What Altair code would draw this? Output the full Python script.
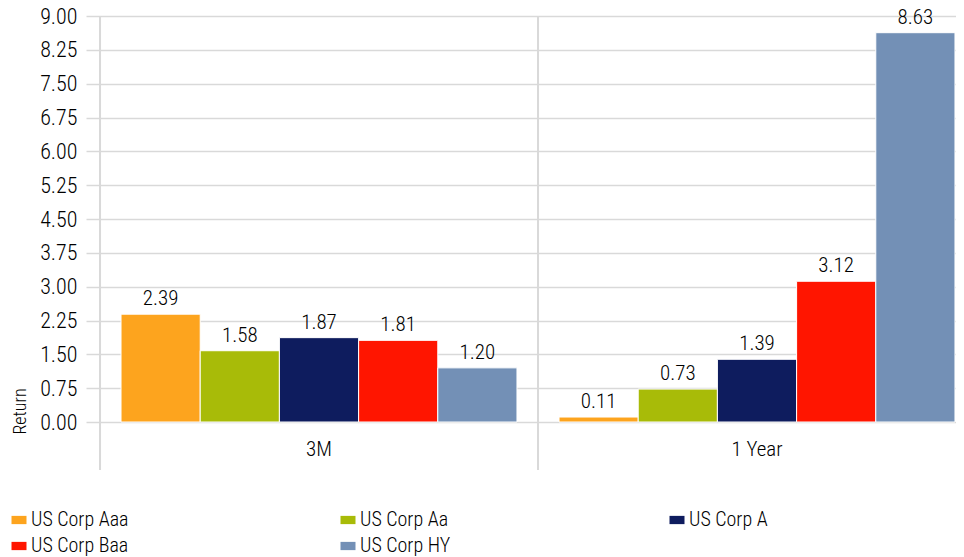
import altair as alt
import pandas as pd

categories = ["3M", "1 Year"]
series = ["US Corp Aaa", "US Corp Aa", "US Corp A", "US Corp Baa", "US Corp HY"]
values_3m = [2.39, 1.58, 1.87, 1.81, 1.20]
values_1y = [0.11, 0.73, 1.39, 3.12, 8.63]
colors = ["#FDA41E", "#A8BB08", "#0E1C5E", "#FF1500", "#7390B6"]
y_ticks = [0, 0.75, 1.5, 2.25, 3.0, 3.75, 4.5, 5.25, 6.0, 6.75, 7.5, 8.25, 9.0]

rows = []
for s, v in zip(series, values_3m):
    rows.append({"Period": "3M", "Series": s, "Return": v})
for s, v in zip(series, values_1y):
    rows.append({"Period": "1 Year", "Series": s, "Return": v})
df = pd.DataFrame(rows)
sep_df = pd.DataFrame({"Period": categories})

FONT = "Roboto Condensed, Liberation Sans Narrow, Arial Narrow, DejaVu Sans Condensed, sans-serif"
FW = 300
GRID = "#d9d9d9"
H = 406
W = 856
STEP_RANGE = [0, 876]

xscale = alt.Scale(domain=categories, range=STEP_RANGE, paddingInner=0.096, paddingOuter=0.048)
yscale = alt.Scale(domain=[0, 9], nice=False, zero=True)

x_axis = alt.Axis(
    title=None,
    labelAngle=0,
    domain=False,
    ticks=False,
    grid=False,
    labelFont=FONT,
    labelFontWeight=FW,
    labelFontSize=21,
    labelColor="#000000",
    labelPadding=16,
)

y_axis = alt.Axis(
    title="Return",
    values=y_ticks,
    format=".2f",
    labelOverlap=False,
    domain=False,
    ticks=True,
    tickSize=14,
    tickColor=GRID,
    tickWidth=1.5,
    grid=True,
    gridColor=GRID,
    gridWidth=1.5,
    labelFont=FONT,
    labelFontWeight=FW,
    labelFontSize=22,
    labelColor="#000000",
    labelPadding=9,
    titleFont=FONT,
    titleFontSize=18,
    titleFontWeight=FW,
    titleColor="#000000",
    titleAngle=-90,
    titleX=-80,
    titleY=395,
    titleAlign="center",
    titleBaseline="middle",
)

x_enc = alt.X("Period:N", scale=xscale, sort=categories, axis=x_axis)
y_enc = alt.Y("Return:Q", scale=yscale, axis=y_axis)

bars = alt.Chart(df).mark_bar(stroke="white", strokeWidth=1).encode(
    x=x_enc,
    xOffset=alt.XOffset("Series:N", sort=series, scale=alt.Scale(paddingInner=0.0)),
    y=y_enc,
    color=alt.Color(
        "Series:N",
        sort=series,
        scale=alt.Scale(domain=series, range=colors),
        legend=alt.Legend(
            title=None,
            orient="none",
            legendX=-91,
            legendY=494,
            direction="horizontal",
            columns=3,
            gridAlign="all",
            columnPadding=209,
            rowPadding=6,
            symbolType="M-1,-0.55H1V0.55H-1Z",
            symbolSize=225,
            symbolStrokeWidth=0,
            symbolOffset=0,
            labelOffset=2,
            labelFont=FONT,
            labelFontWeight=FW,
            labelFontSize=20,
            labelColor="#000000",
            labelLimit=300,
        ),
    ),
)

labels = alt.Chart(df).mark_text(
    baseline="bottom", dy=-5, font=FONT, fontWeight=FW, fontSize=21, color="#000000"
).encode(
    x=x_enc,
    xOffset=alt.XOffset("Series:N", sort=series),
    y=y_enc,
    text=alt.Text("Return:Q", format=".2f"),
)

seps = alt.Chart(sep_df).mark_rule(color=GRID, strokeWidth=2, xOffset=-21).encode(
    x=alt.X("Period:N", scale=xscale, sort=categories, bandPosition=0, axis=x_axis),
    y=alt.value(0),
    y2=alt.value(H + 48),
)

chart = (
    alt.layer(seps, bars, labels)
    .properties(
        width=W,
        height=H,
        autosize=alt.AutoSizeParams(type="none"),
        padding={"left": 92, "top": 8, "right": 0, "bottom": 134},
    )
    .configure_view(stroke=None)
    .configure(background="white")
)

chart.save("out.html", embed_options={"renderer": "svg", "actions": False})
